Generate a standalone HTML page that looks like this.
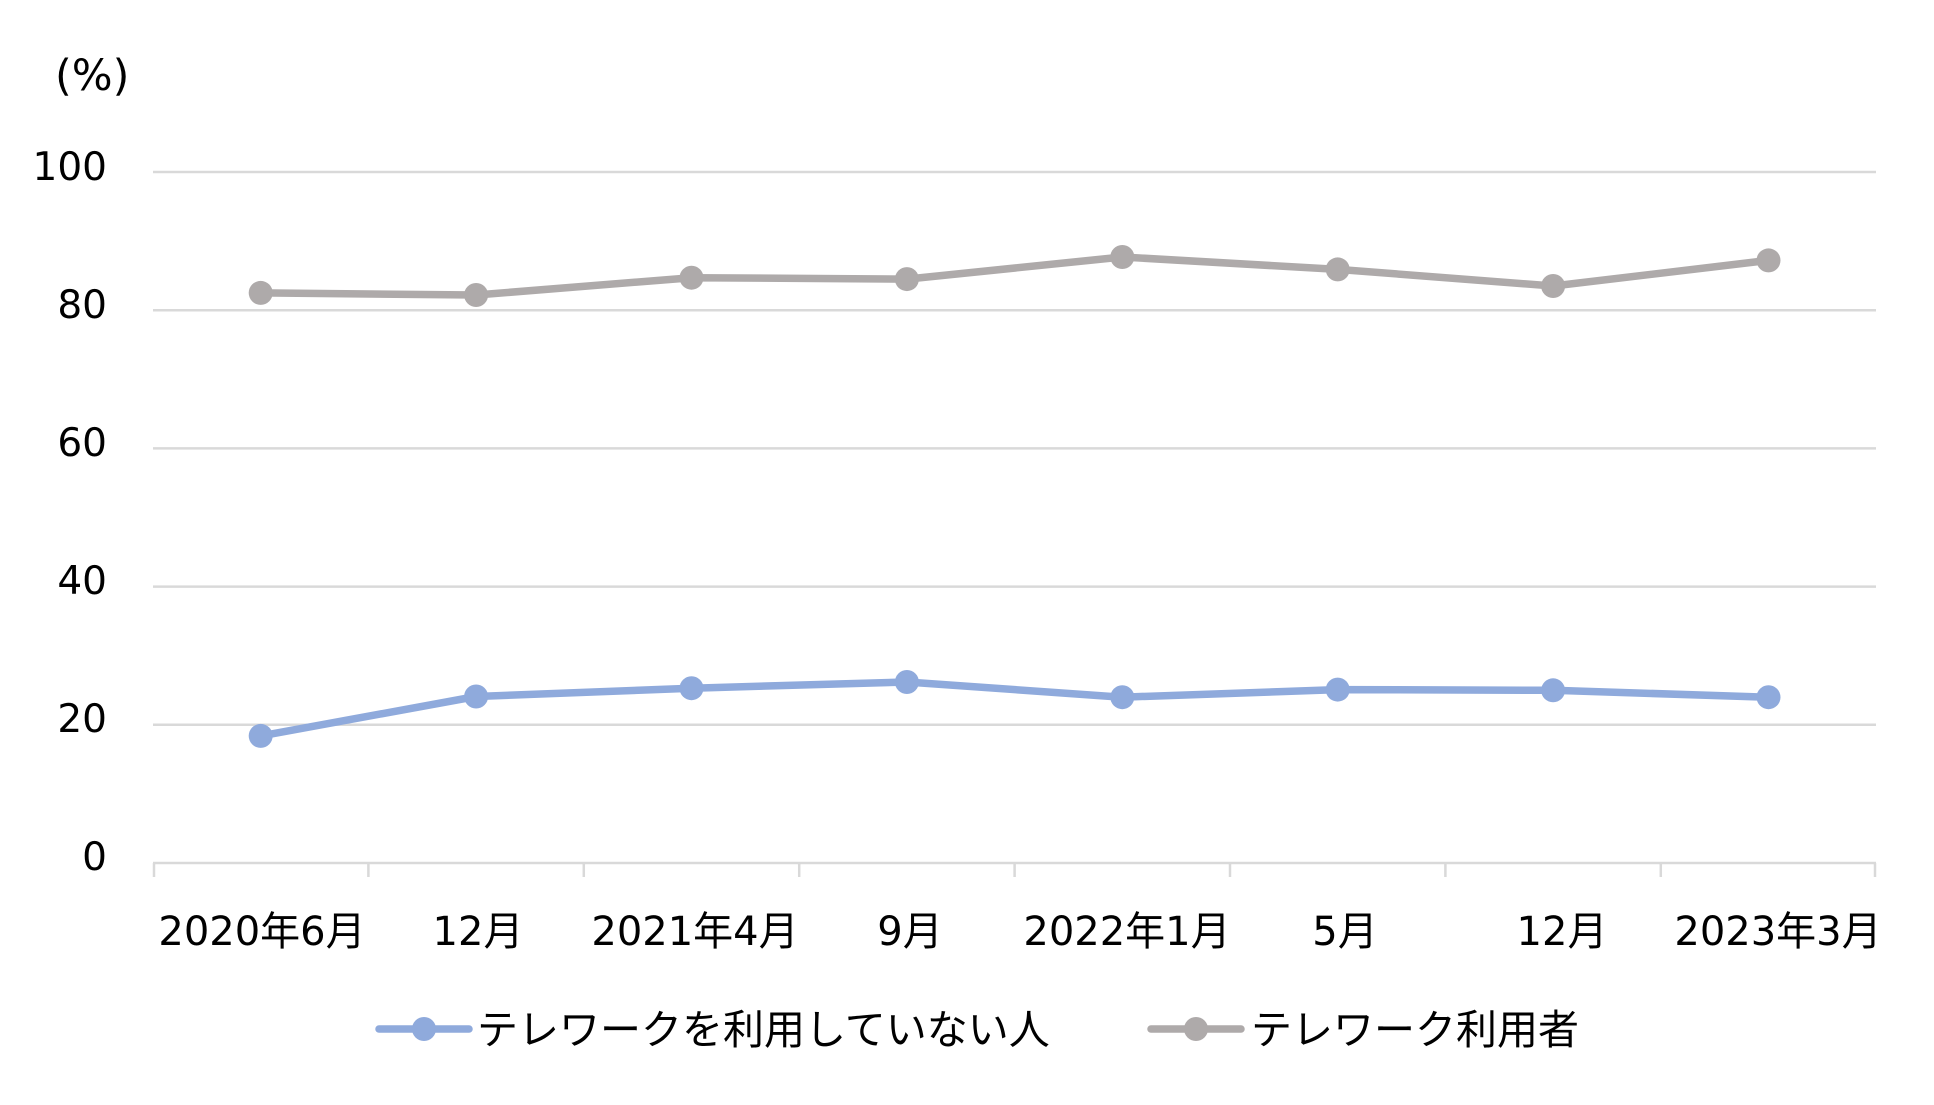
<!DOCTYPE html>
<html><head><meta charset="utf-8"><style>
html,body{margin:0;padding:0;background:#fff;}
svg text{font-family:"DejaVu Sans","Noto Sans CJK JP",sans-serif;fill:#000;}
</style></head><body>
<svg width="1934" height="1100" viewBox="0 0 1934 1100" xmlns="http://www.w3.org/2000/svg">
<text x="55" y="90" font-size="43">(%)</text>
<g stroke="#d9d9d9" stroke-width="2.5">
<line x1="153" y1="172" x2="1876" y2="172"/>
<line x1="153" y1="310.2" x2="1876" y2="310.2"/>
<line x1="153" y1="448.4" x2="1876" y2="448.4"/>
<line x1="153" y1="586.6" x2="1876" y2="586.6"/>
<line x1="153" y1="724.8" x2="1876" y2="724.8"/>
<line x1="153" y1="863" x2="1876" y2="863"/>
<line x1="154" y1="863" x2="154" y2="877"/>
<line x1="368.4" y1="863" x2="368.4" y2="877"/>
<line x1="583.8" y1="863" x2="583.8" y2="877"/>
<line x1="799.2" y1="863" x2="799.2" y2="877"/>
<line x1="1014.6" y1="863" x2="1014.6" y2="877"/>
<line x1="1230" y1="863" x2="1230" y2="877"/>
<line x1="1445.4" y1="863" x2="1445.4" y2="877"/>
<line x1="1660.8" y1="863" x2="1660.8" y2="877"/>
<line x1="1875" y1="863" x2="1875" y2="877"/>
</g>
<g font-size="39" text-anchor="end">
<text x="107" y="180">100</text>
<text x="107" y="318">80</text>
<text x="107" y="456">60</text>
<text x="107" y="594">40</text>
<text x="107" y="732">20</text>
<text x="107" y="870">0</text>
</g>
<g font-size="40" text-anchor="middle">
<text x="262" y="945">2020年6月</text>
<text x="478" y="945">12月</text>
<text x="695" y="945">2021年4月</text>
<text x="910" y="945">9月</text>
<text x="1127" y="945">2022年1月</text>
<text x="1345" y="945">5月</text>
<text x="1562" y="945">12月</text>
<text x="1778" y="945">2023年3月</text>
</g>
<polyline fill="none" stroke="#aeaaaa" stroke-width="7.5" stroke-linejoin="round" points="260.7,292.9 476.1,295 691.5,277.7 906.9,279.1 1122.3,257 1337.7,269.4 1553.1,286 1768.5,260.4"/>
<g fill="#aeaaaa">
<circle cx="260.7" cy="292.9" r="12"/><circle cx="476.1" cy="295" r="12"/><circle cx="691.5" cy="277.7" r="12"/><circle cx="906.9" cy="279.1" r="12"/><circle cx="1122.3" cy="257" r="12"/><circle cx="1337.7" cy="269.4" r="12"/><circle cx="1553.1" cy="286" r="12"/><circle cx="1768.5" cy="260.4" r="12"/>
</g>
<polyline fill="none" stroke="#8faadc" stroke-width="7.5" stroke-linejoin="round" points="260.7,735.9 476.1,696.5 691.5,688.2 906.9,682 1122.3,697.2 1337.7,689.6 1553.1,690.3 1768.5,697.2"/>
<g fill="#8faadc">
<circle cx="260.7" cy="735.9" r="12"/><circle cx="476.1" cy="696.5" r="12"/><circle cx="691.5" cy="688.2" r="12"/><circle cx="906.9" cy="682" r="12"/><circle cx="1122.3" cy="697.2" r="12"/><circle cx="1337.7" cy="689.6" r="12"/><circle cx="1553.1" cy="690.3" r="12"/><circle cx="1768.5" cy="697.2" r="12"/>
</g>
<line x1="379" y1="1029" x2="469" y2="1029" stroke="#8faadc" stroke-width="7.5" stroke-linecap="round"/>
<circle cx="424" cy="1029" r="12" fill="#8faadc"/>
<text x="477" y="1044" font-size="41">テレワークを利用していない人</text>
<line x1="1151" y1="1029" x2="1241" y2="1029" stroke="#aeaaaa" stroke-width="7.5" stroke-linecap="round"/>
<circle cx="1196" cy="1029" r="12" fill="#aeaaaa"/>
<text x="1251" y="1044" font-size="41">テレワーク利用者</text>
</svg>
</body></html>
